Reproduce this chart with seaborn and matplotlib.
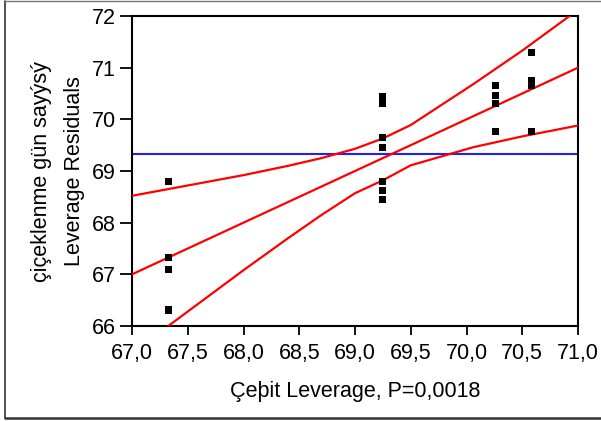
import matplotlib
matplotlib.use("Agg")
import matplotlib.pyplot as plt
import seaborn as sns
import pandas as pd
from matplotlib.lines import Line2D

# Leverage values (x) and leverage residuals (y) for each cultivar group
lev_x = [67.33] * 4 + [69.25] * 7 + [70.26] * 4 + [70.58] * 4
lev_y = [68.79, 67.32, 67.10, 66.31,
         70.45, 70.30, 69.64, 69.45, 68.79, 68.63, 68.44,
         70.65, 70.46, 70.31, 69.76,
         71.30, 70.76, 70.65, 69.76]

# Fitted line and 95% confidence curves
fit_x = [67.0, 71.0]
fit_y = [67.0, 71.0]
curve_x = [67.0, 67.5, 68.0, 68.4, 68.7, 69.0, 69.25, 69.5, 70.06, 70.5, 71.0]
upper_y = [68.52, 68.72, 68.92, 69.10, 69.25, 69.43, 69.63, 69.89, 70.68, 71.33, 72.12]
lower_y = [65.48, 66.28, 67.08, 67.70, 68.15, 68.57, 68.82, 69.11, 69.46, 69.67, 69.88]
mean_y = 69.33

x_ticks = [67.0, 67.5, 68.0, 68.5, 69.0, 69.5, 70.0, 70.5, 71.0]
x_tick_labels = ["67,0", "67,5", "68,0", "68,5", "69,0", "69,5", "70,0", "70,5", "71,0"]
y_ticks = [66, 67, 68, 69, 70, 71, 72]

sns.set_theme(style="white")
plt.rcParams["font.family"] = ["Liberation Sans", "DejaVu Sans"]

fig = plt.figure(figsize=(6.01, 4.21), dpi=100)
ax = fig.add_axes([132 / 601, 1 - 326 / 421, 446 / 601, 310 / 421])

pts = pd.DataFrame({"x": lev_x, "y": lev_y})
ax.axhline(mean_y, color="#2020ff", lw=1.5, zorder=2)
sns.lineplot(x=fit_x, y=fit_y, ax=ax, color="red", lw=1.6, estimator=None, sort=False, zorder=3)
sns.lineplot(x=curve_x, y=upper_y, ax=ax, color="red", lw=1.6, estimator=None, sort=False, zorder=3)
sns.lineplot(x=curve_x, y=lower_y, ax=ax, color="red", lw=1.6, estimator=None, sort=False, zorder=3)
sns.scatterplot(data=pts, x="x", y="y", ax=ax, marker="s", s=26, color="black",
                edgecolor="none", linewidth=0, zorder=4)

ax.set_xlim(67.0, 71.0)
ax.set_ylim(66, 72)
ax.set_xticks(x_ticks)
ax.set_xticklabels(x_tick_labels)
ax.set_yticks(y_ticks)
ax.tick_params(axis="both", labelsize=15.5, colors="black")
ax.tick_params(axis="x", direction="out", length=6.5, width=1.3, pad=6, bottom=True)
ax.tick_params(axis="y", direction="out", length=8.5, width=1.3, pad=3, left=True)
for s in ax.spines.values():
    s.set_visible(True)
    s.set_color("black")
    s.set_linewidth(1.5)

ax.set_xlabel("Çeþit Leverage, P=0,0018", fontsize=15.5, color="black", labelpad=12)
ax.set_ylabel("çiçeklenme gün sayýsý\nLeverage Residuals", fontsize=15.5, color="black",
              labelpad=5, linespacing=1.72)

# Outer frame
fig.add_artist(Line2D([4.5 / 601, 4.5 / 601], [1 - 417.5 / 421, 1 - 1 / 421],
                      transform=fig.transFigure, color="#333333", lw=1.2))
fig.add_artist(Line2D([4.5 / 601, 1.0], [1 - 1 / 421, 1 - 1 / 421],
                      transform=fig.transFigure, color="#777777", lw=1.0))
fig.add_artist(Line2D([4.5 / 601, 1.0], [1 - 417.5 / 421, 1 - 417.5 / 421],
                      transform=fig.transFigure, color="#333333", lw=1.8))

fig.savefig("out.png", dpi=100)
